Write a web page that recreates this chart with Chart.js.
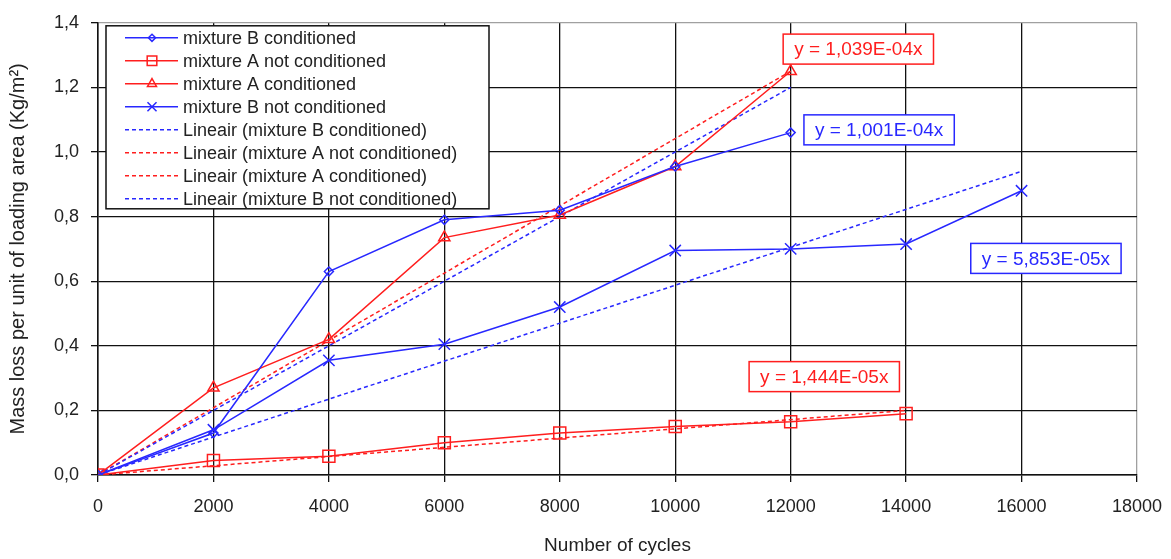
<!DOCTYPE html>
<html>
<head>
<meta charset="utf-8">
<script src="https://cdn.jsdelivr.net/npm/chart.js@4"></script>
<style>
  html, body { margin: 0; padding: 0; background: #fff; }
  #wrap { width: 1171px; height: 559px; }
</style>
</head>
<body>
<div id="wrap"><canvas id="chart"></canvas></div>
<script>
// ---------- Data ----------
const cycles = [0, 2000, 4000, 6000, 8000, 10000, 12000, 14000, 16000];

const seriesNames = [
  "mixture B conditioned",
  "mixture A not conditioned",
  "mixture A conditioned",
  "mixture B not conditioned"
];

const mixBCond = [0, 0.13, 0.63, 0.79, 0.82, 0.955, 1.06];
const mixANotCond = [0, 0.045, 0.058, 0.10, 0.13, 0.15, 0.165, 0.19];
const mixACond = [0, 0.27, 0.42, 0.735, 0.805, 0.955, 1.25];
const mixBNotCond = [0, 0.14, 0.355, 0.405, 0.52, 0.695, 0.70, 0.715, 0.88];

// trend lines through the origin: [start, end] points
const trendBCondX = [0, 12000];
const trendBCondY = [0, 1.20];
const trendANotCondX = [0, 14000];
const trendANotCondY = [0, 0.20];
const trendACondX = [0, 12000];
const trendACondY = [0, 1.25];
const trendBNotCondX = [0, 16000];
const trendBNotCondY = [0, 0.94];

const trendLabels = ["y = 1,001E-04x", "y = 1,444E-05x", "y = 1,039E-04x", "y = 5,853E-05x"];

// ---------- Styles ----------
const BLUE = "rgb(40, 40, 255)";
const RED = "rgb(255, 30, 30)";
const FONT = "'Liberation Sans', Arial, sans-serif";

function toPoints(xs, ys) {
  return ys.map((y, i) => ({ x: xs[i], y }));
}

function seriesDs(label, values, color, style, radius) {
  return {
    label,
    data: toPoints(cycles, values),
    borderColor: color,
    backgroundColor: "rgba(0,0,0,0)",
    borderWidth: 1.5,
    pointStyle: style,
    pointRadius: radius,
    pointBorderColor: color,
    pointBackgroundColor: "rgba(0,0,0,0)",
    pointBorderWidth: 1.5,
    tension: 0
  };
}

function trendDs(label, xs, ys, color) {
  return {
    label,
    data: toPoints(xs, ys),
    borderColor: color,
    borderWidth: 1.5,
    borderDash: [4, 3],
    pointRadius: 0,
    pointStyle: false,
    tension: 0
  };
}

const datasets = [
  seriesDs(seriesNames[0], mixBCond, BLUE, "rectRot", 4.5),
  seriesDs(seriesNames[1], mixANotCond, RED, "rect", 8.5),
  seriesDs(seriesNames[2], mixACond, RED, "triangle", 6.5),
  seriesDs(seriesNames[3], mixBNotCond, BLUE, "crossRot", 8),
  trendDs(`Lineair (${seriesNames[0]})`, trendBCondX, trendBCondY, BLUE),
  trendDs(`Lineair (${seriesNames[1]})`, trendANotCondX, trendANotCondY, RED),
  trendDs(`Lineair (${seriesNames[2]})`, trendACondX, trendACondY, RED),
  trendDs(`Lineair (${seriesNames[3]})`, trendBNotCondX, trendBNotCondY, BLUE)
];

// equation boxes, anchored in data coordinates (left, top)
const eqBoxes = [
  { text: trendLabels[2], color: RED, x: 11870, y: 1.365 },
  { text: trendLabels[0], color: BLUE, x: 12230, y: 1.115 },
  { text: trendLabels[3], color: BLUE, x: 15120, y: 0.717 },
  { text: trendLabels[1], color: RED, x: 11280, y: 0.351 }
];

// ---------- Plugins ----------
const eqBoxPlugin = {
  id: "eqBoxes",
  afterDatasetsDraw(chart) {
    const { ctx, scales } = chart;
    ctx.save();
    ctx.font = `19px ${FONT}`;
    ctx.textBaseline = "middle";
    eqBoxes.forEach((b) => {
      const left = scales.x.getPixelForValue(b.x);
      const top = scales.y.getPixelForValue(b.y);
      const w = ctx.measureText(b.text).width + 22;
      const h = 30;
      ctx.fillStyle = "#fff";
      ctx.fillRect(left, top, w, h);
      ctx.strokeStyle = b.color;
      ctx.lineWidth = 1.5;
      ctx.strokeRect(left, top, w, h);
      ctx.fillStyle = b.color;
      ctx.fillText(b.text, left + 11, top + h / 2 + 1);
    });
    ctx.restore();
  }
};

const boxLegendPlugin = {
  id: "boxLegend",
  afterDraw(chart) {
    const { ctx, chartArea } = chart;
    const left = chartArea.left + 8;
    const top = chartArea.top + 3;
    const w = 383;
    const h = 183;
    const rowH = 23;
    ctx.save();
    ctx.fillStyle = "#fff";
    ctx.fillRect(left, top, w, h);
    ctx.strokeStyle = "#111";
    ctx.lineWidth = 1.5;
    ctx.strokeRect(left, top, w, h);
    ctx.font = `18px ${FONT}`;
    ctx.textBaseline = "middle";
    chart.data.datasets.forEach((ds, i) => {
      const y = top + 12 + i * rowH;
      ctx.save();
      ctx.strokeStyle = ds.borderColor;
      ctx.lineWidth = ds.borderWidth;
      ctx.setLineDash(ds.borderDash || []);
      ctx.beginPath();
      ctx.moveTo(left + 19, y);
      ctx.lineTo(left + 72, y);
      ctx.stroke();
      ctx.restore();
      if (ds.pointRadius > 0) {
        ctx.strokeStyle = ds.pointBorderColor;
        ctx.lineWidth = ds.pointBorderWidth;
        ctx.fillStyle = "rgba(0,0,0,0)";
        Chart.helpers.drawPoint(ctx, {
          pointStyle: ds.pointStyle,
          radius: ds.pointRadius * 0.8,
          rotation: 0,
          borderWidth: ds.pointBorderWidth
        }, left + 46, y);
      }
      ctx.fillStyle = "#222";
      ctx.fillText(ds.label, left + 77, y + 1);
    });
    ctx.restore();
  }
};

// ---------- Chart ----------
new Chart(document.getElementById("chart"), {
  type: "line",
  data: { datasets },
  options: {
    responsive: true,
    maintainAspectRatio: false,
    animation: false,
    layout: { padding: { top: 21, right: 34, left: 0, bottom: 0 } },
    plugins: {
      legend: { display: false },
      tooltip: { enabled: false }
    },
    scales: {
      x: {
        type: "linear",
        min: 0,
        max: 18000,
        ticks: {
          stepSize: 2000,
          padding: 14,
          color: "#222",
          font: { family: FONT, size: 18 },
          maxRotation: 0,
          callback: (v) => String(v)
        },
        grid: {
          color: (c) => (c.tick && c.tick.value === 18000 ? "#a0a0a0" : "#111"),
          lineWidth: 1.3,
          tickLength: 7,
          tickColor: "#111"
        },
        border: { color: "#111", width: 1.5 },
        title: {
          display: true,
          text: "Number of cycles",
          color: "#222",
          font: { family: FONT, size: 19 },
          padding: { top: 0, bottom: 2 }
        },
        afterFit: (s) => {
          s.height = 84;
          s.paddingLeft = 0;
          s.paddingRight = 0;
        }
      },
      y: {
        min: 0,
        max: 1.4,
        ticks: {
          stepSize: 0.2,
          padding: 12,
          color: "#222",
          font: { family: FONT, size: 18 },
          callback: (v) => v.toFixed(1).replace(".", ",")
        },
        grid: {
          color: (c) => (c.tick && c.tick.value === 1.4 ? "#a0a0a0" : "#111"),
          lineWidth: 1.3,
          tickLength: 7,
          tickColor: "#111"
        },
        border: { color: "#111", width: 1.5 },
        title: {
          display: true,
          text: "Mass loss per unit of loading area (Kg/m²)",
          color: "#222",
          font: { family: FONT, size: 20 },
          padding: { top: 6, bottom: 0 }
        },
        afterFit: (s) => { s.width = 98; }
      }
    }
  },
  plugins: [eqBoxPlugin, boxLegendPlugin]
});
</script>
</body>
</html>
